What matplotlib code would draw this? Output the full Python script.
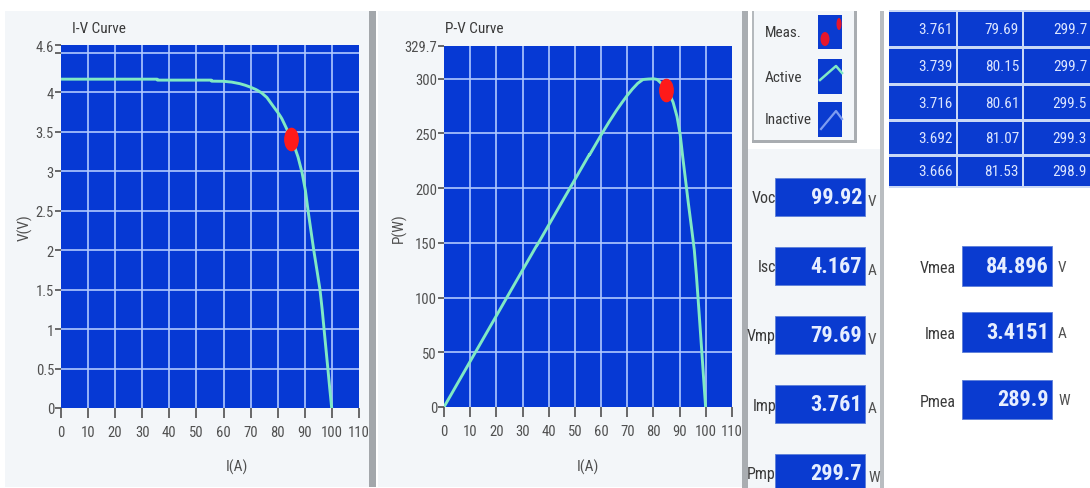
import matplotlib
matplotlib.use("Agg")
import matplotlib.pyplot as plt
from matplotlib import font_manager
from matplotlib.patches import Rectangle, Ellipse
from matplotlib.lines import Line2D
from matplotlib.path import Path
from matplotlib.transforms import Affine2D
from matplotlib.markers import MarkerStyle

# ---- measured sweep (voltage axis, current, power) ----
sweep_v = [0, 10, 20, 30, 35.5, 35.6, 45, 55.5, 55.6, 60, 63, 66, 68, 70, 72, 74, 76,
           78, 79.69, 80.15, 80.61, 81.07, 81.53, 83, 84.896, 86, 87.5, 89, 90.2, 91.2,
           92.2, 93.3, 94.5, 95.6, 96.4, 97.1, 97.8, 98.5, 99.2, 99.92]
sweep_i = [4.167, 4.167, 4.167, 4.167, 4.167, 4.155, 4.155, 4.155, 4.142, 4.14, 4.13,
           4.11, 4.09, 4.065, 4.035, 3.995, 3.935, 3.84, 3.761, 3.739, 3.716, 3.692,
           3.666, 3.56, 3.4151, 3.33, 3.18, 2.98, 2.76, 2.50, 2.26, 2.00, 1.74, 1.50,
           1.25, 1.00, 0.75, 0.50, 0.25, 0.0]
sweep_p = [0, 41.7, 83.3, 125.0, 147.9, 147.9, 187.0, 230.6, 230.3, 248.4, 260.2,
           271.3, 278.1, 284.6, 290.5, 295.6, 299.1, 299.5, 299.7, 299.7, 299.5, 299.3,
           298.9, 295.5, 289.9, 286.4, 278.3, 265.2, 249.0, 228.0, 208.4, 186.6, 164.4,
           143.4, 120.5, 97.1, 73.4, 49.3, 24.8, 0.0]

# ---- operating point ----
meas_v, meas_i, meas_p = 84.896, 3.4151, 289.9

# ---- points table ----
table_current = ["3.761", "3.739", "3.716", "3.692", "3.666"]
table_voltage = ["79.69", "80.15", "80.61", "81.07", "81.53"]
table_power = ["299.7", "299.7", "299.5", "299.3", "298.9"]

# ---- summary indicators ----
summary_labels = ["Voc", "Isc", "Vmp", "Imp", "Pmp"]
summary_values = ["99.92", "4.167", "79.69", "3.761", "299.7"]
summary_units = ["V", "A", "V", "A", "W"]
meas_labels = ["Vmea", "Imea", "Pmea"]
meas_values = ["84.896", "3.4151", "289.9"]
meas_units = ["V", "A", "W"]

x_ticks = list(range(0, 111, 10))
iv_yticks = [0, 0.5, 1, 1.5, 2, 2.5, 3, 3.5, 4, 4.6]
iv_ytick_labels = ["0", "0.5", "1", "1.5", "2", "2.5", "3", "3.5", "4", "4.6"]
pv_yticks = [0, 50, 100, 150, 200, 250, 300, 329.7]
pv_ytick_labels = ["0", "50", "100", "150", "200", "250", "300", "329.7"]

# ---- styling ----
names = {f.name for f in font_manager.fontManager.ttflist}
FONT = "Liberation Sans"
for cand in ["Liberation Sans Narrow", "Roboto Condensed", "Arial Narrow"]:
    if cand in names:
        FONT = cand
        break
PLOT_BLUE = "#0639d4"
BOX_BLUE = "#0a3bd0"
GRID = "#b0c8ff"
CURVE = "#80e9c4"
PANEL = "#f3f6f9"
TXT = "#3a3a3a"
TICK = "#505050"

W, H = 1090, 489
fig = plt.figure(figsize=(W / 100, H / 100), dpi=100)
fig.patch.set_facecolor("white")


def fx(x):
    return x / W


def fy(y):
    return 1 - y / H


def rect(x0, y0, x1, y1, z=-5, **kw):
    fig.add_artist(Rectangle((fx(x0), fy(y1)), (x1 - x0) / W, (y1 - y0) / H,
                             transform=fig.transFigure, zorder=z, **kw))


def text(x, y, s, **kw):
    kw.setdefault("family", FONT)
    kw.setdefault("color", TXT)
    fig.text(fx(x), fy(y), s, **kw)


def line(xs, ys, **kw):
    fig.add_artist(Line2D([fx(x) for x in xs], [fy(y) for y in ys],
                          transform=fig.transFigure, **kw))


def blob(cx, cy, w, h):
    fig.add_artist(Ellipse((fx(cx), fy(cy)), w / W, h / H, transform=fig.transFigure,
                           facecolor="#e5162c", edgecolor="none", zorder=3))


# panels
rect(5, 12, 370, 488, facecolor=PANEL, edgecolor="none")
rect(369, 12, 376, 488, facecolor="#a3a7ab", edgecolor="none", z=-4)
rect(378, 12, 742, 488, facecolor=PANEL, edgecolor="none")
rect(742, 12, 748, 489, facecolor="#a9adb1", edgecolor="none", z=-4)
rect(748, 150, 881, 489, facecolor=PANEL, edgecolor="none")
rect(880, 12, 884, 489, facecolor="#b9bdc1", edgecolor="none", z=-4)
# legend box
rect(752, 12, 856, 142, facecolor=PANEL, edgecolor="none")
rect(752, 12, 754, 142, facecolor="#b5b9bd", edgecolor="none", z=-4)
rect(854, 12, 857, 144, facecolor="#a9adb1", edgecolor="none", z=-4)
rect(752, 141, 857, 144, facecolor="#a9adb1", edgecolor="none", z=-4)

# elliptical marker for the operating point
ell = Path.unit_circle().transformed(Affine2D().scale(0.6, 1.0))
meas_marker = MarkerStyle(ell)


def style_axes(ax, ylim, yticks, ylabels, grid_y):
    ax.set_facecolor(PLOT_BLUE)
    ax.set_xlim(0, 110)
    ax.set_ylim(*ylim)
    for s in ax.spines.values():
        s.set_visible(False)
    ax.set_xticks(x_ticks)
    ax.set_xticklabels([str(t) for t in x_ticks])
    ax.set_yticks(yticks)
    ax.set_yticklabels(ylabels)
    for g in x_ticks[1:-1]:
        ax.axvline(g, color=GRID, lw=1.2, zorder=1)
    for g in grid_y:
        ax.axhline(g, color=GRID, lw=1.2, zorder=1)
    ax.tick_params(axis="x", length=7, width=1.2, color=TICK, pad=5,
                   labelsize=10.5, labelcolor=TICK)
    ax.tick_params(axis="y", length=4, width=1.2, color=TICK, pad=1,
                   labelsize=10.5, labelcolor=TICK)
    for lab in ax.get_xticklabels() + ax.get_yticklabels():
        lab.set_family(FONT)


ax_iv = fig.add_axes([fx(61), fy(409), 298 / W, 363 / H])
style_axes(ax_iv, (0, 4.6), iv_yticks + [4.5], iv_ytick_labels + [""],
           [0.5, 1, 1.5, 2, 2.5, 3, 3.5, 4, 4.5])
ax_iv.plot(sweep_v, sweep_i, color=CURVE, lw=2.1, zorder=3, solid_capstyle="round",
           solid_joinstyle="round")
ax_iv.plot([meas_v], [meas_i], linestyle="none", marker=meas_marker, markersize=16,
           color="#ff1a1a", zorder=4)

ax_pv = fig.add_axes([fx(444), fy(408), 288 / W, 361 / H])
style_axes(ax_pv, (0, 329.7), pv_yticks, pv_ytick_labels,
           [50, 100, 150, 200, 250, 300])
ax_pv.plot(sweep_v, sweep_p, color=CURVE, lw=2.1, zorder=3, solid_capstyle="round",
           solid_joinstyle="round")
ax_pv.plot([meas_v], [meas_p], linestyle="none", marker=meas_marker, markersize=16,
           color="#ff1a1a", zorder=4)

# titles and axis labels
text(72, 29, "I-V Curve", fontsize=11, va="center", ha="left")
text(445, 29, "P-V Curve", fontsize=11, va="center", ha="left")
text(25, 228, "V(V)", fontsize=11, rotation=90, va="center", ha="center", color=TICK)
text(399, 228, "P(W)", fontsize=11, rotation=90, va="center", ha="center", color=TICK)
text(237, 467, "I(A)", fontsize=11, va="center", ha="center", color=TICK)
text(588, 467, "I(A)", fontsize=11, va="center", ha="center", color=TICK)

# legend entries
legend_names = ["Meas.", "Active", "Inactive"]
legend_rows = [(16, 50), (60, 95), (103, 138)]
for name, (t, b) in zip(legend_names, legend_rows):
    text(765, (t + b) / 2, name, fontsize=11, va="center", ha="left")
    rect(818, t, 842, b, facecolor=BOX_BLUE, edgecolor="none", z=2)
blob(825, 40, 9, 14)
blob(839, 25, 5, 12)
line([820, 836, 842], [81, 67, 74], color=CURVE, lw=1.8, zorder=3)
line([821, 836, 842], [130, 112, 120], color="#7e9cf0", lw=1.6, zorder=3)

# points table
cols = [(889, 956), (958, 1022), (1024, 1092)]
rows = [(13, 47), (50, 84), (87, 120), (123, 155), (158, 187)]
rect(889, 11, 1090, 189, facecolor="#c9d8f6", edgecolor="none", z=1)
for r, (t, b) in enumerate(rows):
    vals = [table_current[r], table_voltage[r], table_power[r]]
    for c, (l, rr) in enumerate(cols):
        rect(l, t, rr, b, facecolor=BOX_BLUE, edgecolor="none", z=2)
        text(min(rr, 1090) - 3, (t + b) / 2, vals[c], fontsize=11, ha="right",
             va="center", color="#dbe5ff")

# summary indicators
for k in range(5):
    t = 179 + 69 * k
    b = t + 38
    rect(775, t, 865, b, facecolor=BOX_BLUE, edgecolor="#5d7fd8", lw=0.6, z=2)
    text(776, (t + b) / 2 + 1, summary_labels[k], fontsize=11.5, ha="right",
         va="center")
    text(862, (t + b) / 2, summary_values[k], fontsize=16, fontweight="bold",
         ha="right", va="center", color="#e6eeff")
    text(868, (t + b) / 2 + 4, summary_units[k], fontsize=11, ha="left", va="center",
         color=TICK)

mea_rows = [(247, 287), (313, 353), (381, 420)]
for k, (t, b) in enumerate(mea_rows):
    rect(962, t, 1052, b, facecolor=BOX_BLUE, edgecolor="#5d7fd8", lw=0.6, z=2)
    text(956, (t + b) / 2 + 2, meas_labels[k], fontsize=11.5, ha="right", va="center")
    text(1049, (t + b) / 2, meas_values[k], fontsize=16, fontweight="bold",
         ha="right", va="center", color="#e6eeff")
    text(1058, (t + b) / 2 + 1, meas_units[k], fontsize=11, ha="left", va="center",
         color=TICK)

fig.savefig("out.png", dpi=100, facecolor=fig.get_facecolor())
